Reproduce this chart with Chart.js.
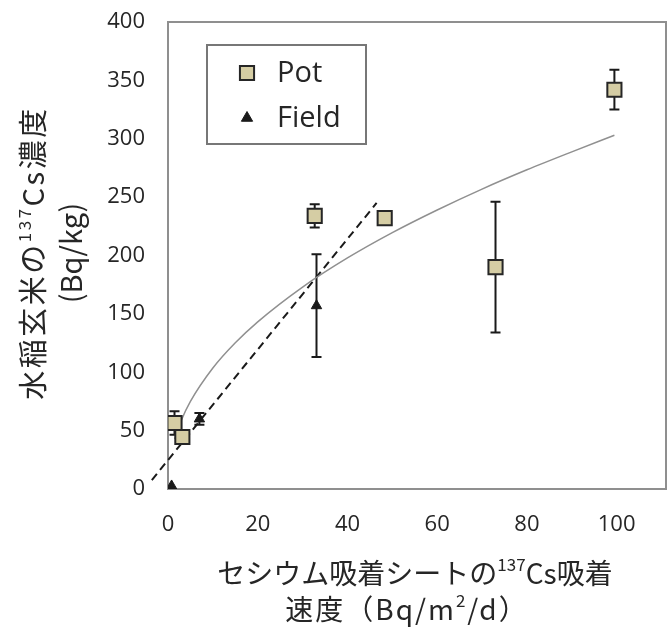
<!DOCTYPE html>
<html>
<head>
<meta charset="utf-8">
<script src="https://cdn.jsdelivr.net/npm/chart.js@4.4.1/dist/chart.umd.min.js"></script>
<style>
  html, body { margin: 0; padding: 0; background: #fff; }
</style>
</head>
<body>
<canvas id="grafica" width="667" height="628"></canvas>
<script>
// valores
const potX = [1.45, 3.2, 32.7, 48.3, 73.0, 99.5];
const potY = [56.5, 44.5, 234, 232, 190, 342];
const potErr = [10, 0, 10, 0, 56, 17];

const fieldX = [0.8, 7.0, 33.1];
const fieldY = [2.6, 60, 157];
const fieldErr = [0, 5, 44];

// curva de tendencia (Pot) y recta discontinua
const trendX = [1.5, 3, 5, 10, 15, 20, 30, 40, 50, 60, 70, 80, 90, 99.5];
const trendY = [42.8, 59.1, 75, 103.6, 125.2, 143.2, 173, 197.9, 219.6, 239, 256.9, 273.4, 288.8, 303];
const dashX = [-3.6, 46.5];
const dashY = [7.7, 245];

const xTicks = [0, 20, 40, 60, 80, 100];
const yTicks = [0, 50, 100, 150, 200, 250, 300, 350, 400];

const xTitle = [
    [{ t: 'セシウム吸着シートの' }, { t: '137', sup: true }, { t: 'Cs吸着' }],
    [{ t: '速度（Bq/m' }, { t: '2', sup: true }, { t: '/d）' }]
];
const yTitle = [
    [{ t: '水稲玄米の' }, { t: '137', sup: true }, { t: 'Cs濃度' }],
    [{ t: '(Bq/kg)' }]
];

const toPts = (xs, ys) => xs.map((x, i) => ({ x: x, y: ys[i] }));

const tickFont = { family: '"Open Sans", "Noto Sans", sans-serif', size: 22 };
const titleFamily = '"Noto Sans CJK JP", sans-serif';
const textColor = '#262626';

function drawRich(ctx, parts, cx, cy, size, spacing) {
    const supSize = Math.round(size * 0.6);
    ctx.letterSpacing = (spacing || 0) + 'px';
    let total = 0;
    const widths = parts.map(p => {
        ctx.font = (p.sup ? supSize : size) + 'px ' + titleFamily;
        const w = ctx.measureText(p.t).width;
        total += w;
        return w;
    });
    let x = cx - total / 2;
    parts.forEach((p, i) => {
        ctx.font = (p.sup ? supSize : size) + 'px ' + titleFamily;
        ctx.fillText(p.t, x, p.sup ? cy - size * 0.3 : cy);
        x += widths[i];
    });
    ctx.letterSpacing = '0px';
}

const marcoYTitulos = {
    id: 'marcoYTitulos',
    beforeDatasetsDraw(chart) {
        const { ctx, chartArea: a } = chart;
        ctx.save();
        ctx.strokeStyle = '#8f8f8f';
        ctx.lineWidth = 2;
        ctx.strokeRect(a.left, a.top, a.right - a.left, a.bottom - a.top);

        // barras de error
        const xs = chart.scales.x, ys = chart.scales.y;
        ctx.strokeStyle = '#1a1a1a';
        ctx.lineWidth = 2;
        chart.data.datasets.forEach(ds => {
            if (!ds.errores) return;
            ds.data.forEach((p, i) => {
                const e = ds.errores[i];
                if (!e) return;
                const px = xs.getPixelForValue(p.x);
                const top = ys.getPixelForValue(p.y + e);
                const bot = ys.getPixelForValue(p.y - e);
                ctx.beginPath();
                ctx.moveTo(px, top); ctx.lineTo(px, bot);
                ctx.moveTo(px - 5, top); ctx.lineTo(px + 5, top);
                ctx.moveTo(px - 5, bot); ctx.lineTo(px + 5, bot);
                ctx.stroke();
            });
        });
        ctx.restore();
    },
    afterDraw(chart) {
        const ctx = chart.ctx;
        ctx.save();
        ctx.fillStyle = textColor;
        ctx.textBaseline = 'middle';
        ctx.textAlign = 'left';

        drawRich(ctx, xTitle[0], 415, 573, 28, 0);
        drawRich(ctx, xTitle[1], 407, 609, 28, 2);

        ctx.translate(0, 253);
        ctx.rotate(-Math.PI / 2);
        drawRich(ctx, yTitle[0], 0, 33, 29, 2.5);
        drawRich(ctx, yTitle[1], 0, 71, 29, 0);
        ctx.restore();

        // leyenda
        ctx.save();
        ctx.strokeStyle = '#777';
        ctx.lineWidth = 2;
        ctx.strokeRect(207, 45, 159, 99);
        let y = 73;
        chart.data.datasets.forEach(ds => {
            if (!ds.enLeyenda) return;
            ctx.fillStyle = ds.backgroundColor;
            ctx.strokeStyle = ds.borderColor;
            ctx.lineWidth = ds.borderWidth;
            Chart.helpers.drawPoint(ctx, {
                pointStyle: ds.pointStyle,
                radius: ds.pointStyle === 'rect' ? 10 : 6.5,
                rotation: 0,
                borderWidth: ds.borderWidth
            }, 247, y);
            ctx.fillStyle = textColor;
            ctx.font = '29px "Open Sans", sans-serif';
            ctx.textBaseline = 'middle';
            ctx.fillText(ds.label, 277, y + 1);
            y += 45;
        });
        ctx.restore();
    }
};

new Chart(document.getElementById('grafica'), {
    type: 'scatter',
    data: {
        datasets: [{
            label: 'Pot',
            data: toPts(potX, potY),
            errores: potErr,
            enLeyenda: true,
            pointStyle: 'rect',
            pointRadius: 10,
            backgroundColor: 'rgb(213,205,164)',
            borderColor: '#262626',
            borderWidth: 2,
            order: 0
        }, {
            label: 'Field',
            data: toPts(fieldX, fieldY),
            errores: fieldErr,
            enLeyenda: true,
            pointStyle: 'triangle',
            pointRadius: 6,
            backgroundColor: '#1a1a1a',
            borderColor: '#1a1a1a',
            borderWidth: 1,
            order: 1
        }, {
            label: 'tendencia',
            data: toPts(trendX, trendY),
            showLine: true,
            cubicInterpolationMode: 'monotone',
            pointRadius: 0,
            borderColor: '#909090',
            borderWidth: 1.5,
            order: 2
        }, {
            label: 'recta',
            data: toPts(dashX, dashY),
            showLine: true,
            pointRadius: 0,
            borderColor: '#1a1a1a',
            borderWidth: 2,
            borderDash: [8, 5],
            clip: false,
            order: 3
        }]
    },
    options: {
        responsive: false,
        animation: false,
        layout: { autoPadding: false, padding: { top: 22, right: 1, left: 0, bottom: 0 } },
        plugins: {
            legend: { display: false },
            tooltip: { enabled: false }
        },
        scales: {
            x: {
                min: 0,
                max: 111,
                afterBuildTicks(s) { s.ticks = xTicks.map(v => ({ value: v })); },
                ticks: { font: tickFont, color: textColor, padding: 23, maxRotation: 0 },
                grid: { display: false, drawTicks: false },
                border: { display: false },
                afterFit(s) { s.height = 139; s.paddingLeft = 0; s.paddingRight = 0; }
            },
            y: {
                min: 0,
                max: 400,
                afterBuildTicks(s) { s.ticks = yTicks.map(v => ({ value: v })); },
                ticks: { font: tickFont, color: textColor, padding: 23 },
                grid: { display: false, drawTicks: false },
                border: { display: false },
                afterFit(s) { s.width = 168; s.paddingTop = 0; s.paddingBottom = 0; }
            }
        }
    },
    plugins: [marcoYTitulos]
});
</script>
</body>
</html>
